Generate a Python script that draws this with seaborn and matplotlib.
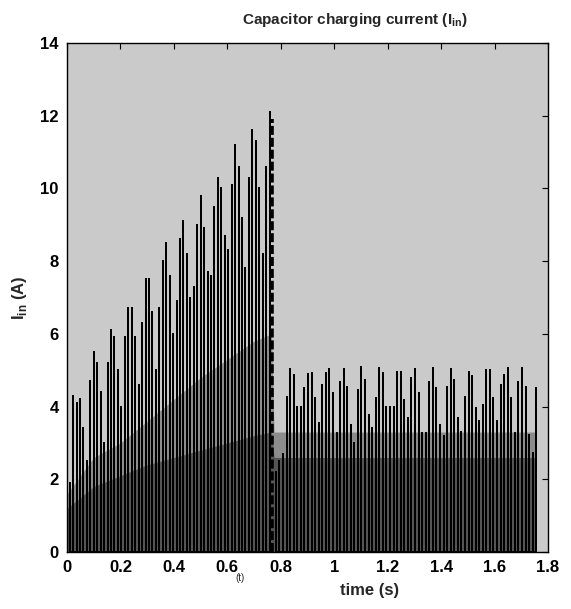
import numpy as np
import pandas as pd
import matplotlib
matplotlib.use('Agg')
import matplotlib.pyplot as plt
import seaborn as sns

# peak of each charging pulse while the capacitor is still charging (A)
charge_peaks = [1.9, 4.3, 4.1, 4.2, 3.4, 2.5, 4.7, 5.5, 5.2, 4.4,
                3.0, 5.2, 6.1, 5.9, 5.0, 4.0, 5.9, 6.7, 6.7, 5.9,
                4.6, 6.3, 7.5, 7.5, 6.6, 5.0, 6.7, 8.0, 8.5, 7.6,
                6.0, 6.9, 8.6, 9.1, 8.2, 7.0, 7.3, 9.0, 9.8, 8.9,
                7.7, 7.6, 9.5, 10.3, 10.0, 8.7, 8.3, 10.1, 11.2, 10.6,
                9.2, 7.8, 10.3, 11.6, 11.3, 10.0, 8.2, 10.6, 12.1]
charge_start, charge_period = 0.01, 0.0129

# pulses after the switch-over (steady state)
steady_peaks = [2.2, 2.5, 2.7,
                4.27, 5.03, 4.87, 4.0, 4.0,
                4.5, 4.89, 4.91, 4.23, 3.54,
                4.6, 4.91, 5.03, 4.36, 3.27,
                4.68, 5.03, 4.55, 3.49, 3.0,
                4.45, 5.10, 4.73, 3.77, 3.4,
                4.23, 5.05, 4.91, 4.0, 4.0,
                4.0, 4.94, 4.94, 4.18, 3.68,
                4.78, 5.03, 4.36, 3.27, 3.27,
                4.68, 5.05, 4.5, 3.49, 3.2,
                4.55, 5.03, 4.73, 3.68, 3.3,
                4.27, 4.94, 4.85, 3.95, 3.6,
                4.04, 5.0, 5.0, 4.23, 3.59,
                4.6, 4.87, 5.05, 4.23, 3.27,
                4.68, 5.05, 4.55, 3.22, 2.72,
                4.5]
steady_start, steady_period = 0.7816, 0.01335

switch_time, switch_peak = 0.768, 11.9

# levels of the dense low-current part of the trace
band_times = [0.0, 0.1, 0.2, 0.3, 0.4, 0.5, 0.6, 0.7, 0.765, 0.775, 1.755]
band_mid = [1.6, 2.6, 3.0, 3.6, 4.2, 4.8, 5.3, 5.8, 6.0, 3.3, 3.3]
band_low = [1.2, 1.8, 2.1, 2.4, 2.6, 2.8, 3.0, 3.2, 3.3, 2.6, 2.6]

x_ticks = [0, 0.2, 0.4, 0.6, 0.8, 1, 1.2, 1.4, 1.6, 1.8]
x_labels = ['0', '0.2', '0.4', '0.6', '0.8', '1', '1.2', '1.4', '1.6', '1.8']
y_ticks = [0, 2, 4, 6, 8, 10, 12, 14]


def pulse_frame(peaks, start, period):
    t = start + period * np.arange(len(peaks))
    tt = np.repeat(t, 3)
    ii = np.column_stack([np.zeros(len(peaks)), peaks, np.zeros(len(peaks))]).ravel()
    return pd.DataFrame({'t': tt, 'i': ii})


sns.set_style('white')
plt.rcParams['font.family'] = ['Liberation Sans', 'DejaVu Sans']
plt.rcParams['mathtext.fontset'] = 'custom'
plt.rcParams['mathtext.rm'] = 'Liberation Sans:bold'

fig = plt.figure(figsize=(5.71, 6.09), dpi=100)
ax = fig.add_axes([67 / 571, 57 / 609, 481 / 571, 509 / 609])
ax.set_facecolor('#cacaca')

ax.fill_between(band_times, 0, band_mid, color='#8c8c8c', lw=0)
ax.fill_between(band_times, 0, band_low, color='#555555', lw=0)

charge = pulse_frame(charge_peaks, charge_start, charge_period)
steady = pulse_frame(steady_peaks, steady_start, steady_period)
for df in (charge, steady):
    sns.lineplot(data=df, x='t', y='i', sort=False, estimator=None,
                 color='black', lw=1.3, ax=ax)

ax.vlines(switch_time, 0, switch_peak, colors='black', lw=2.6,
          linestyles=(0, (2.5, 0.8)))

ax.set_xlim(0, 1.8)
ax.set_ylim(0, 14)
ax.set_xticks(x_ticks)
ax.set_xticklabels(x_labels)
ax.set_yticks(y_ticks)
ax.tick_params(direction='in', length=4, width=0.8, top=True, right=True,
               labelsize=12, pad=6, colors='black')
for lab in ax.get_xticklabels() + ax.get_yticklabels():
    lab.set_fontweight('bold')
ax.set_xlabel('')
ax.set_ylabel('')
for s in ax.spines.values():
    s.set_color('black')
    s.set_linewidth(1.0)

fig.text(0.622, 0.967, r'Capacitor charging current (I$_{\mathregular{in}}$)',
         ha='center', va='center', fontsize=11, fontweight='bold')
fig.text(0.035, 0.511, r'I$_{\mathregular{in}}$ (A)', rotation=90,
         ha='center', va='center', fontsize=12, fontweight='bold')
fig.text(0.648, 0.030, 'time (s)', ha='center', va='center',
         fontsize=12, fontweight='bold')
fig.text(0.42, 0.051, '(t)', ha='center', va='center', fontsize=7)

fig.savefig('out.png', dpi=100, facecolor='white')
